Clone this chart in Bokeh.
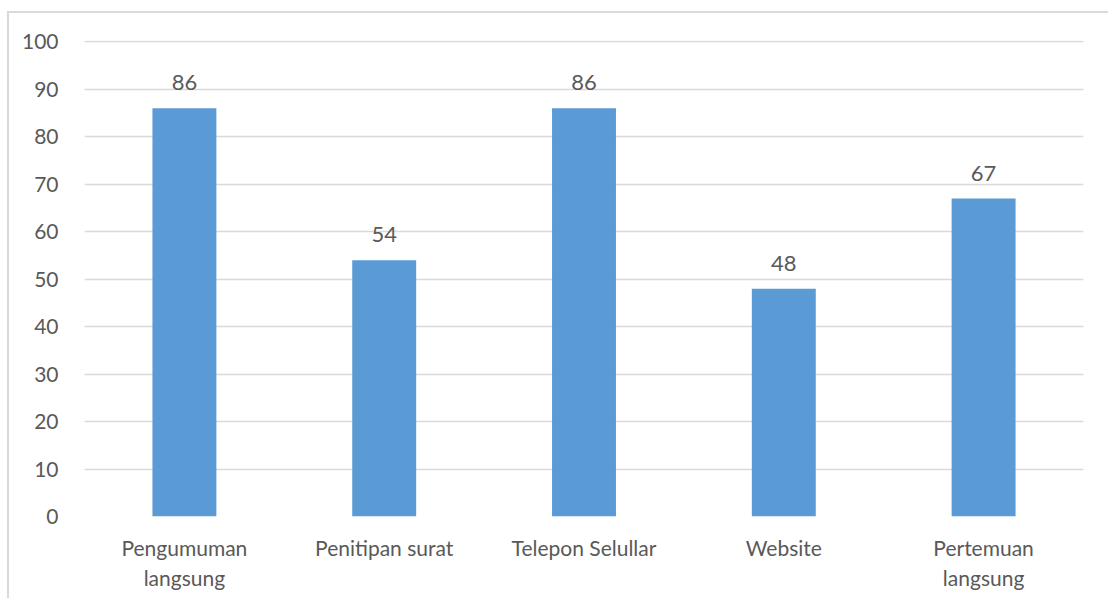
from bokeh.plotting import figure
from bokeh.models import ColumnDataSource, LabelSet, FactorRange, Range1d, FixedTicker, InlineStyleSheet
from bokeh.core.properties import value
from bokeh.embed import file_html
from bokeh.resources import INLINE

categories = ["Pengumuman\nlangsung", "Penitipan surat", "Telepon Selullar", "Website", "Pertemuan\nlangsung"]
values = [86, 54, 86, 48, 67]
y_ticks = [0, 10, 20, 30, 40, 50, 60, 70, 80, 90, 100]

FONT = "Lato"
TXT = "#595959"

src = ColumnDataSource(dict(cat=categories, val=values, lbl=[str(v) for v in values]))

p = figure(width=1108, height=598, x_range=FactorRange(*categories, range_padding=0),
           y_range=Range1d(0, 100.3), output_backend="svg", toolbar_location=None,
           min_border_left=84, min_border_right=25, min_border_top=40, min_border_bottom=82)
p.background_fill_color = "white"
p.border_fill_color = None
p.outline_line_color = None

css = (":host { background: "
       "linear-gradient(#d9d9d9, #d9d9d9) 7px 11px / 2px 100% no-repeat, "
       "linear-gradient(#d9d9d9, #d9d9d9) 7px 11px / 100% 2px no-repeat, "
       "white; }")
p.stylesheets = [InlineStyleSheet(css=css)]

p.vbar(x="cat", top="val", width=0.32, source=src, color="#5B9BD5", line_color=None)

labels = LabelSet(x="cat", y="val", text="lbl", source=src, text_align="center",
                  text_baseline="alphabetic", y_offset=18, text_font=value(FONT),
                  text_font_size=value("22px"), text_color=value(TXT))
p.add_layout(labels)

p.yaxis.ticker = FixedTicker(ticks=y_ticks)
p.ygrid.ticker = FixedTicker(ticks=y_ticks)
p.ygrid.grid_line_color = "#d9d9d9"
p.ygrid.grid_line_width = 1.5
p.xgrid.grid_line_color = None

for ax in (p.xaxis, p.yaxis):
    ax.axis_line_color = None
    ax.major_tick_line_color = None
    ax.minor_tick_line_color = None
    ax.major_label_text_font = FONT
    ax.major_label_text_font_size = "21px"
    ax.major_label_text_color = TXT

p.yaxis.major_label_standoff = 20
p.xaxis.major_label_standoff = 12
p.xaxis.major_label_text_line_height = 1.2

open("out.html", "w").write(file_html(p, INLINE))
